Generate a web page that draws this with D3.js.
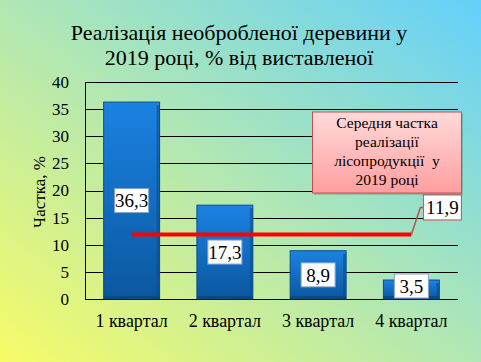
<!DOCTYPE html>
<html>
<head>
<meta charset="utf-8">
<script src="https://cdn.jsdelivr.net/npm/d3@7"></script>
<style>
  html, body { margin: 0; padding: 0; }
  body { width: 481px; height: 362px; overflow: hidden; }
  text { font-family: "Liberation Serif", "Times New Roman", serif; fill: #000; }
</style>
</head>
<body>
<div id="chart"></div>
<script>
// Data
const quarters = ['1 квартал', '2 квартал', '3 квартал', '4 квартал'];
const shares = [36.3, 17.3, 8.9, 3.5];
const average = 11.9;
const yTicks = [0, 5, 10, 15, 20, 25, 30, 35, 40];
const titleLines = ['Реалізація необробленої деревини у', '2019 році, % від виставленої'];
const noteLines = ['Середня частка', 'реалізації', 'лісопродукції  у', '2019 році'];
const yTitle = 'Частка, %';

const fmt = v => String(v).replace('.', ',');

const W = 481, H = 362;
const PLOT = { left: 85, right: 458, top: 82, bottom: 299 };

const svg = d3.select('#chart').append('svg')
  .attr('width', W)
  .attr('height', H);

const defs = svg.append('defs');

// background: yellow bottom-left -> cyan top-right
const bg = defs.append('linearGradient').attr('id', 'bg')
  .attr('x1', '0').attr('y1', '1').attr('x2', '1').attr('y2', '0');
bg.append('stop').attr('offset', '0%').attr('stop-color', '#f7fb68');
bg.append('stop').attr('offset', '50%').attr('stop-color', '#b0e7b4');
bg.append('stop').attr('offset', '100%').attr('stop-color', '#63d0fb');

const barGrad = defs.append('linearGradient').attr('id', 'bar')
  .attr('x1', '0').attr('y1', '0').attr('x2', '0').attr('y2', '1');
barGrad.append('stop').attr('offset', '0%').attr('stop-color', '#1b82e2');
barGrad.append('stop').attr('offset', '100%').attr('stop-color', '#0b579f');

const noteGrad = defs.append('linearGradient').attr('id', 'note')
  .attr('x1', '0').attr('y1', '0').attr('x2', '0').attr('y2', '1');
noteGrad.append('stop').attr('offset', '0%').attr('stop-color', '#ffdada');
noteGrad.append('stop').attr('offset', '100%').attr('stop-color', '#ff9e9e');

svg.append('rect').attr('width', W).attr('height', H).attr('fill', 'url(#bg)');

// title
svg.append('text')
  .attr('x', 239).attr('y', 40)
  .attr('text-anchor', 'middle')
  .style('font-size', '22px')
  .selectAll('tspan')
  .data(titleLines)
  .join('tspan')
    .attr('x', 239)
    .attr('dy', (d, i) => i === 0 ? 0 : 25)
    .text(d => d);

const x = d3.scaleBand()
  .domain(quarters)
  .range([PLOT.left, PLOT.right])
  .paddingInner(0.4)
  .paddingOuter(0.2);

const y = d3.scaleLinear()
  .domain([0, 40])
  .range([PLOT.bottom, PLOT.top]);

// gridlines
svg.append('g')
  .selectAll('line')
  .data(yTicks)
  .join('line')
    .attr('x1', PLOT.left).attr('x2', PLOT.right)
    .attr('y1', d => Math.round(y(d)) + 0.5)
    .attr('y2', d => Math.round(y(d)) + 0.5)
    .attr('stroke', '#000')
    .attr('stroke-width', 1);

svg.append('line')
  .attr('x1', PLOT.left + 0.5).attr('x2', PLOT.left + 0.5)
  .attr('y1', PLOT.top).attr('y2', PLOT.bottom + 1)
  .attr('stroke', '#000');

// y tick labels
svg.append('g')
  .selectAll('text')
  .data(yTicks)
  .join('text')
    .attr('x', 69)
    .attr('y', d => y(d))
    .attr('dy', '0.35em')
    .attr('text-anchor', 'end')
    .style('font-size', '17px')
    .text(d => d);

svg.append('text')
  .attr('transform', `translate(45,${192}) rotate(-90)`)
  .attr('text-anchor', 'middle')
  .style('font-size', '17px')
  .text(yTitle);

// bars
const bars = svg.append('g')
  .selectAll('g')
  .data(quarters.map((q, i) => ({ q, v: shares[i] })))
  .join('g');

bars.append('rect')
  .attr('x', d => x(d.q))
  .attr('y', d => y(d.v))
  .attr('width', x.bandwidth())
  .attr('height', d => y(0) - y(d.v))
  .attr('fill', 'url(#bar)')
  .attr('stroke', '#0a4d90')
  .attr('stroke-width', 1);

// bevel edges
bars.append('rect')
  .attr('x', d => x(d.q) + x.bandwidth() - 3)
  .attr('y', d => y(d.v) + 3)
  .attr('width', 3)
  .attr('height', d => Math.max(0, y(0) - y(d.v) - 6))
  .attr('fill', '#0a4e92').attr('opacity', 0.6);
bars.append('rect')
  .attr('x', d => x(d.q))
  .attr('y', d => y(0) - 3)
  .attr('width', x.bandwidth())
  .attr('height', 3)
  .attr('fill', '#083f78').attr('opacity', 0.6);

// value labels
const labels = bars.append('g')
  .attr('transform', d => {
    const cy = Math.min((y(d.v) + y(0)) / 2, y(0) - 13);
    return `translate(${x(d.q) + x.bandwidth() / 2},${cy})`;
  });
labels.append('rect')
  .attr('x', -17).attr('y', -12)
  .attr('width', 34).attr('height', 24)
  .attr('fill', '#fff')
  .attr('stroke', '#8aa3c4');
labels.append('text')
  .attr('text-anchor', 'middle')
  .attr('dy', '0.35em')
  .style('font-size', '19px')
  .text(d => fmt(d.v));

// x labels
svg.append('g')
  .selectAll('text')
  .data(quarters)
  .join('text')
    .attr('x', d => x(d) + x.bandwidth() / 2)
    .attr('y', 327)
    .attr('text-anchor', 'middle')
    .style('font-size', '18px')
    .text(d => d);

// average line
const x0 = x(quarters[0]) + x.bandwidth() / 2;
const x1 = x(quarters[3]) + x.bandwidth() / 2;
svg.append('line')
  .attr('x1', x0).attr('x2', x1)
  .attr('y1', y(average)).attr('y2', y(average))
  .attr('stroke', '#ff0000')
  .attr('stroke-width', 4);

// leader line and label for the average
svg.append('path')
  .attr('d', `M${x1},${y(average)} L${x1 + 9},${y(average) - 27} L${x1 + 12},${y(average) - 27}`)
  .attr('fill', 'none')
  .attr('stroke', '#b4524f')
  .attr('stroke-width', 1.5);

const avgLabel = svg.append('g').attr('transform', `translate(${x1 + 31},${y(average) - 27})`);
avgLabel.append('rect')
  .attr('x', -19).attr('y', -12.5)
  .attr('width', 38).attr('height', 25)
  .attr('fill', '#fff')
  .attr('stroke', '#c0504d');
avgLabel.append('text')
  .attr('text-anchor', 'middle')
  .attr('dy', '0.35em')
  .style('font-size', '19px')
  .text(fmt(average));

// note box
const note = svg.append('g');
note.append('rect')
  .attr('x', 314).attr('y', 114)
  .attr('width', 149).attr('height', 81)
  .attr('fill', '#000').attr('opacity', 0.15);
note.append('rect')
  .attr('x', 312.5).attr('y', 112)
  .attr('width', 149).attr('height', 81)
  .attr('fill', 'url(#note)')
  .attr('stroke', '#c0504d');
note.append('text')
  .attr('text-anchor', 'middle')
  .style('font-size', '15.5px')
  .selectAll('tspan')
  .data(noteLines)
  .join('tspan')
    .attr('x', 387)
    .attr('y', (d, i) => 128 + i * 19)
    .style('white-space', 'pre')
    .text(d => d);
</script>
</body>
</html>
